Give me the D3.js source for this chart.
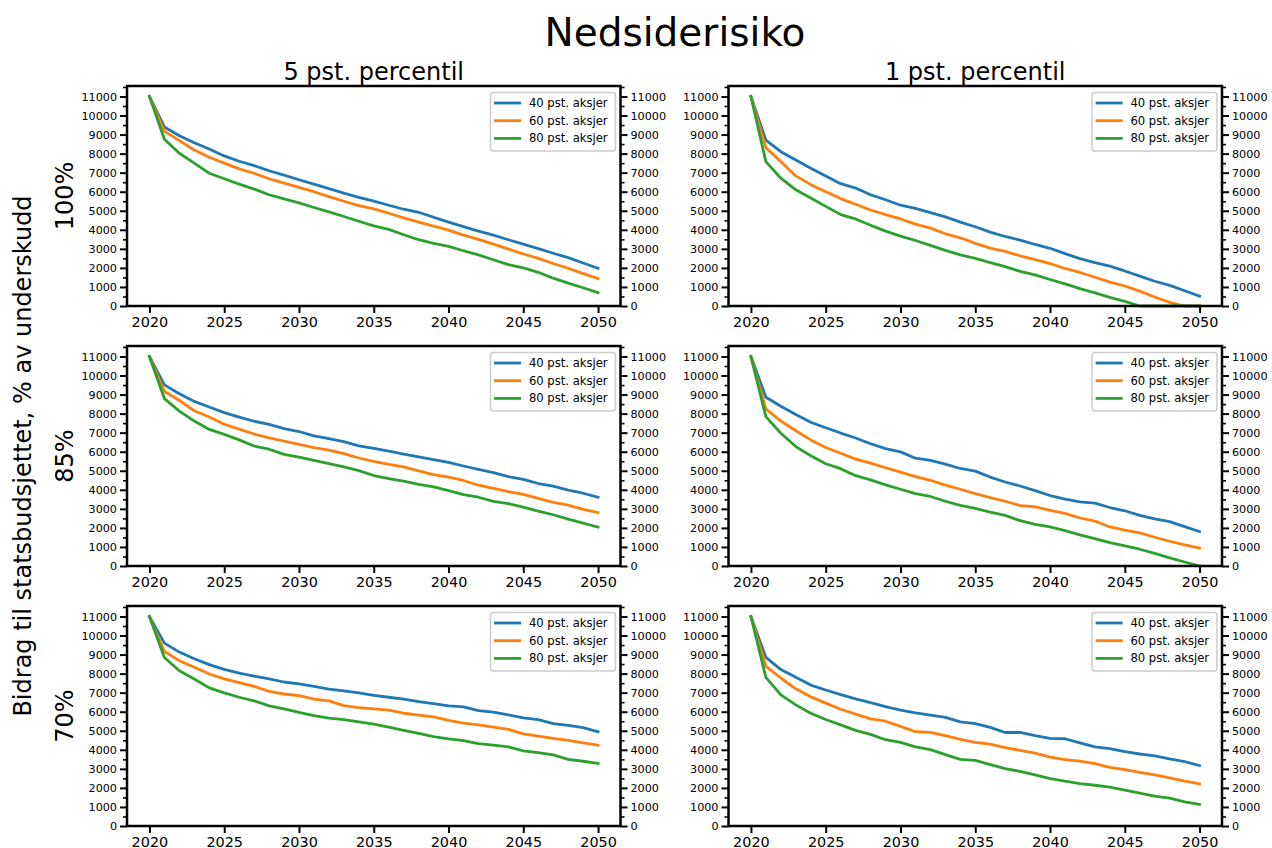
<!DOCTYPE html>
<html>
<head>
<meta charset="utf-8">
<script src="https://cdn.jsdelivr.net/npm/d3@7"></script>
<style>
  html, body { margin: 0; padding: 0; background: #fff; }
  svg { display: block; font-family: "DejaVu Sans", sans-serif; }
</style>
</head>
<body>
<svg id="chart" width="1272" height="848"></svg>
<script>
// Years on the horizontal axis
const years = [2020, 2021, 2022, 2023, 2024, 2025, 2026, 2027, 2028, 2029, 2030,
  2031, 2032, 2033, 2034, 2035, 2036, 2037, 2038, 2039, 2040,
  2041, 2042, 2043, 2044, 2045, 2046, 2047, 2048, 2049, 2050];

const seriesNames = ["40 pst. aksjer", "60 pst. aksjer", "80 pst. aksjer"];
const seriesColors = ["#1f77b4", "#ff7f0e", "#2ca02c"];
const colTitles = ["5 pst. percentil", "1 pst. percentil"];
const rowLabels = ["100%", "85%", "70%"];
const xTicks = [2020, 2025, 2030, 2035, 2040, 2045, 2050];
const yTicks = [0, 1000, 2000, 3000, 4000, 5000, 6000, 7000, 8000, 9000, 10000, 11000];
const yMinorTicks = [500, 1500, 2500, 3500, 4500, 5500, 6500, 7500, 8500, 9500, 10500, 11500];

// 5th percentile, 100 % coverage
const p5_r100_a40 = [11000, 9400, 8940, 8570, 8240, 7880, 7600, 7370, 7100, 6870, 6630, 6400, 6160, 5930, 5700, 5510, 5290, 5080, 4920, 4660, 4400, 4170, 3930, 3720, 3480, 3250, 3010, 2770, 2540, 2260, 1980];
const p5_r100_a60 = [11000, 9180, 8680, 8190, 7810, 7500, 7200, 6970, 6680, 6450, 6230, 6000, 5740, 5500, 5270, 5100, 4870, 4630, 4400, 4190, 3980, 3720, 3500, 3250, 2990, 2730, 2500, 2230, 1980, 1700, 1440];
const p5_r100_a80 = [11000, 8750, 8020, 7500, 6970, 6680, 6400, 6140, 5840, 5620, 5410, 5170, 4940, 4700, 4450, 4210, 4020, 3740, 3480, 3290, 3130, 2900, 2680, 2430, 2170, 2000, 1770, 1460, 1200, 960, 700];

// 1st percentile, 100 % coverage
const p1_r100_a40 = [11000, 8710, 8100, 7670, 7230, 6830, 6420, 6190, 5840, 5580, 5290, 5130, 4900, 4680, 4400, 4160, 3880, 3650, 3460, 3230, 3030, 2750, 2490, 2280, 2090, 1840, 1570, 1300, 1080, 800, 520];
const p1_r100_a60 = [11000, 8310, 7580, 6830, 6370, 6000, 5640, 5340, 5040, 4800, 4570, 4300, 4090, 3790, 3580, 3290, 3040, 2870, 2630, 2430, 2230, 1970, 1760, 1510, 1250, 1050, 780, 470, 190, 0, 0];
const p1_r100_a80 = [11000, 7580, 6710, 6100, 5670, 5230, 4800, 4570, 4240, 3930, 3670, 3440, 3180, 2920, 2680, 2500, 2280, 2070, 1820, 1630, 1390, 1160, 910, 690, 450, 240, 0, 0, 0, 0, 0];

// 5th percentile, 85 % coverage
const p5_r85_a40 = [11000, 9510, 9040, 8640, 8350, 8050, 7820, 7600, 7440, 7210, 7060, 6830, 6690, 6530, 6310, 6170, 6030, 5870, 5730, 5590, 5440, 5250, 5070, 4900, 4690, 4550, 4330, 4190, 3980, 3820, 3610];
const p5_r85_a60 = [11000, 9160, 8690, 8150, 7820, 7440, 7190, 6930, 6730, 6550, 6380, 6220, 6080, 5900, 5670, 5490, 5340, 5200, 4990, 4800, 4660, 4490, 4240, 4070, 3900, 3760, 3550, 3340, 3200, 2970, 2800];
const p5_r85_a80 = [11000, 8790, 8130, 7610, 7170, 6910, 6620, 6300, 6130, 5860, 5720, 5540, 5370, 5200, 5010, 4750, 4590, 4450, 4280, 4150, 3960, 3750, 3610, 3390, 3270, 3090, 2880, 2690, 2460, 2250, 2040];

// 1st percentile, 85 % coverage
const p1_r85_a40 = [11000, 8860, 8390, 7950, 7550, 7260, 6980, 6720, 6420, 6160, 5990, 5660, 5550, 5350, 5120, 4980, 4670, 4410, 4200, 3960, 3700, 3510, 3370, 3300, 3070, 2900, 2660, 2470, 2330, 2070, 1810];
const p1_r85_a60 = [11000, 8250, 7610, 7100, 6620, 6220, 5920, 5610, 5400, 5160, 4930, 4690, 4500, 4250, 4030, 3800, 3590, 3400, 3170, 3110, 2920, 2760, 2520, 2360, 2050, 1880, 1740, 1510, 1300, 1110, 940];
const p1_r85_a80 = [11000, 7840, 6970, 6270, 5790, 5370, 5110, 4740, 4520, 4260, 4030, 3800, 3650, 3400, 3180, 3020, 2830, 2660, 2380, 2190, 2050, 1860, 1630, 1440, 1230, 1060, 880, 660, 430, 210, 0];

// 5th percentile, 70 % coverage
const p5_r70_a40 = [11000, 9600, 9130, 8780, 8470, 8220, 8030, 7870, 7720, 7560, 7460, 7330, 7190, 7090, 6990, 6860, 6760, 6660, 6530, 6430, 6310, 6250, 6060, 5980, 5840, 5680, 5590, 5380, 5280, 5160, 4950];
const p5_r70_a60 = [11000, 9160, 8680, 8330, 7980, 7720, 7530, 7330, 7070, 6930, 6850, 6660, 6570, 6320, 6220, 6150, 6080, 5920, 5820, 5730, 5540, 5400, 5310, 5190, 5070, 4840, 4720, 4600, 4490, 4370, 4250];
const p5_r70_a80 = [11000, 8850, 8150, 7720, 7250, 6990, 6760, 6570, 6310, 6150, 5960, 5800, 5660, 5590, 5470, 5350, 5190, 5020, 4860, 4690, 4580, 4480, 4320, 4250, 4150, 3940, 3850, 3730, 3500, 3400, 3290];

// 1st percentile, 70 % coverage
const p1_r70_a40 = [11000, 8850, 8210, 7810, 7400, 7140, 6900, 6670, 6480, 6270, 6080, 5940, 5820, 5700, 5470, 5380, 5180, 4910, 4910, 4740, 4600, 4580, 4360, 4150, 4060, 3900, 3780, 3680, 3520, 3380, 3170];
const p1_r70_a60 = [11000, 8380, 7770, 7200, 6780, 6450, 6130, 5870, 5620, 5500, 5230, 4950, 4910, 4740, 4550, 4390, 4300, 4110, 3970, 3830, 3620, 3480, 3410, 3280, 3080, 2960, 2820, 2680, 2530, 2350, 2210];
const p1_r70_a80 = [11000, 7800, 6880, 6360, 5920, 5590, 5310, 5020, 4810, 4530, 4390, 4150, 4010, 3750, 3500, 3450, 3220, 3010, 2870, 2680, 2490, 2350, 2230, 2140, 2040, 1880, 1720, 1570, 1460, 1270, 1130];

// Panel grid: rows = coverage level, columns = percentile
const panels = [
  { row: 0, col: 0, series: [p5_r100_a40, p5_r100_a60, p5_r100_a80] },
  { row: 0, col: 1, series: [p1_r100_a40, p1_r100_a60, p1_r100_a80] },
  { row: 1, col: 0, series: [p5_r85_a40, p5_r85_a60, p5_r85_a80] },
  { row: 1, col: 1, series: [p1_r85_a40, p1_r85_a60, p1_r85_a80] },
  { row: 2, col: 0, series: [p5_r70_a40, p5_r70_a60, p5_r70_a80] },
  { row: 2, col: 1, series: [p1_r70_a40, p1_r70_a60, p1_r70_a80] }
];

// Layout
const colX = [127, 728.5];
const panelW = 493.5;
const rowY = [86, 346, 606];
const panelH = 220;

const svg = d3.select("#chart");

// Figure title
svg.append("text")
  .attr("x", 675).attr("y", 46)
  .attr("text-anchor", "middle")
  .attr("font-size", 39)
  .text("Nedsiderisiko");

// Column titles
colTitles.forEach((t, c) => {
  svg.append("text")
    .attr("x", colX[c] + panelW / 2).attr("y", 80)
    .attr("text-anchor", "middle")
    .attr("font-size", 24)
    .text(t);
});

// Row labels
rowLabels.forEach((t, r) => {
  svg.append("text")
    .attr("transform", `translate(73,${rowY[r] + panelH / 2}) rotate(-90)`)
    .attr("text-anchor", "middle")
    .attr("font-size", 24)
    .text(t);
});

// Shared y label
svg.append("text")
  .attr("transform", `translate(31,${(rowY[0] + rowY[2] + panelH) / 2}) rotate(-90)`)
  .attr("text-anchor", "middle")
  .attr("font-size", 24)
  .text("Bidrag til statsbudsjettet, % av underskudd");

const x = d3.scaleLinear().domain([2018.5, 2051.5]);
const y = d3.scaleLinear().domain([0, 11550]);

function styleAxis(g, labelSize, width) {
  g.select(".domain").remove();
  g.selectAll(".tick line").attr("stroke", "#000").attr("stroke-width", width);
  g.selectAll(".tick text").attr("fill", "#000").attr("font-size", labelSize)
    .attr("font-family", "DejaVu Sans, sans-serif");
}

panels.forEach(p => {
  const x0 = colX[p.col], y0 = rowY[p.row];
  const xs = x.copy().range([x0, x0 + panelW]);
  const ys = y.copy().range([y0 + panelH, y0]);
  const g = svg.append("g");

  // Series lines
  const line = d3.line()
    .x((d, i) => xs(years[i]))
    .y(d => ys(d));
  p.series.forEach((vals, k) => {
    g.append("path")
      .datum(vals)
      .attr("d", line)
      .attr("fill", "none")
      .attr("stroke", seriesColors[k])
      .attr("stroke-width", 2.8)
      .attr("stroke-linejoin", "round")
      .attr("stroke-linecap", "square");
  });

  // Left y axis
  g.append("g").attr("transform", `translate(${x0},0)`)
    .call(d3.axisLeft(ys).tickValues(yMinorTicks).tickSize(4).tickFormat(""))
    .call(a => styleAxis(a, 11, 1.6));
  g.append("g").attr("transform", `translate(${x0},0)`)
    .call(d3.axisLeft(ys).tickValues(yTicks).tickSize(7).tickPadding(3).tickFormat(d3.format("d")))
    .call(a => styleAxis(a, 11.2, 2));

  // Right y axis
  g.append("g").attr("transform", `translate(${x0 + panelW},0)`)
    .call(d3.axisRight(ys).tickValues(yMinorTicks).tickSize(4).tickFormat(""))
    .call(a => styleAxis(a, 11, 1.6));
  g.append("g").attr("transform", `translate(${x0 + panelW},0)`)
    .call(d3.axisRight(ys).tickValues(yTicks).tickSize(7).tickPadding(3).tickFormat(d3.format("d")))
    .call(a => styleAxis(a, 11.2, 2));

  // Bottom x axis
  g.append("g").attr("transform", `translate(0,${y0 + panelH})`)
    .call(d3.axisBottom(xs).tickValues(xTicks).tickSize(7).tickPadding(4).tickFormat(d3.format("d")))
    .call(a => styleAxis(a, 14.4, 2));

  // Frame
  g.append("rect")
    .attr("x", x0).attr("y", y0)
    .attr("width", panelW).attr("height", panelH)
    .attr("fill", "none").attr("stroke", "#000").attr("stroke-width", 2.5);

  // Legend
  const lw = 125, lh = 58.5;
  const lx = x0 + panelW - 5 - lw, ly = y0 + 6.5;
  const leg = g.append("g").attr("transform", `translate(${lx},${ly})`);
  leg.append("rect")
    .attr("width", lw).attr("height", lh)
    .attr("rx", 3).attr("ry", 3)
    .attr("fill", "#fff").attr("fill-opacity", 0.8)
    .attr("stroke", "#cccccc").attr("stroke-width", 1.5);
  seriesNames.forEach((name, k) => {
    const yy = 10.5 + k * 17.7;
    leg.append("line")
      .attr("x1", 3.6).attr("x2", 30.6)
      .attr("y1", yy).attr("y2", yy)
      .attr("stroke", seriesColors[k]).attr("stroke-width", 2.8);
    leg.append("text")
      .attr("x", 38.4).attr("y", yy)
      .attr("dy", "0.35em")
      .attr("font-size", 11.6)
      .text(name);
  });
});
</script>
</body>
</html>
